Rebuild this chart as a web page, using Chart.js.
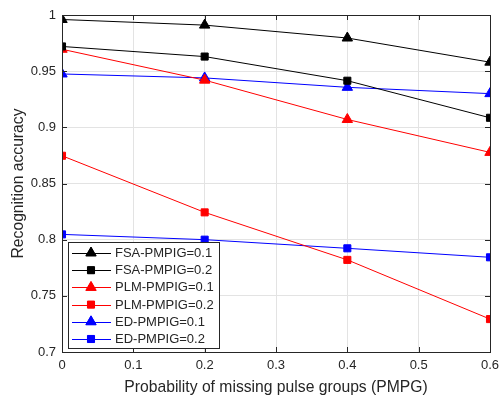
<!DOCTYPE html>
<html><head><meta charset="utf-8">
<script src="https://cdn.jsdelivr.net/npm/chart.js@4/dist/chart.umd.min.js"></script>
<style>html,body{margin:0;padding:0;background:#fff}#wrap{width:499px;height:397px}</style>
</head><body><div id="wrap"><canvas id="c" width="499" height="397"></canvas></div>
<script>
const xValues = [0, 0.2, 0.4, 0.6];
const fsa01 = [0.996, 0.991, 0.9795, 0.958];
const fsa02 = [0.972, 0.963, 0.9415, 0.9085];
const plm01 = [0.9695, 0.942, 0.907, 0.8777];
const plm02 = [0.8747, 0.8243, 0.782, 0.7293];
const ed01 = [0.9475, 0.944, 0.9356, 0.930];
const ed02 = [0.8047, 0.800, 0.7923, 0.7843];
const seriesLabels = ['FSA-PMPIG=0.1','FSA-PMPIG=0.2','PLM-PMPIG=0.1','PLM-PMPIG=0.2','ED-PMPIG=0.1','ED-PMPIG=0.2'];
const xTicks = [0, 0.1, 0.2, 0.3, 0.4, 0.5, 0.6];
const yTicks = [0.7, 0.75, 0.8, 0.85, 0.9, 0.95, 1];
const xTitle = 'Probability of missing pulse groups (PMPG)';
const yTitle = 'Recognition accuracy';

const FONT = '"Liberation Sans", Arial, Helvetica, sans-serif';
const AX = '#262626';

function ds(label, vals, color, style) {
  return {
    label, data: vals.map((v,i)=>({x:xValues[i], y:v})),
    borderColor: color, backgroundColor: color, borderWidth: 1,
    pointStyle: style, pointRadius: style==='triangle'?6:5, pointHoverRadius: style==='triangle'?6:5,
    pointBorderWidth: 1, pointBorderColor: color, pointBackgroundColor: color, tension: 0
  };
}
const datasets = [
  ds(seriesLabels[0], fsa01, '#000000', 'triangle'),
  ds(seriesLabels[1], fsa02, '#000000', 'rect'),
  ds(seriesLabels[2], plm01, '#ff0000', 'triangle'),
  ds(seriesLabels[3], plm02, '#ff0000', 'rect'),
  ds(seriesLabels[4], ed01, '#0000ff', 'triangle'),
  ds(seriesLabels[5], ed02, '#0000ff', 'rect'),
];

const framePlugin = {
  id: 'frame',
  afterDatasetsDraw(chart) {
    const {ctx, chartArea: a, scales} = chart;
    ctx.save();
    ctx.strokeStyle = AX; ctx.lineWidth = 1;
    ctx.strokeRect(Math.round(a.left)+0.5, Math.round(a.top)+0.5, Math.round(a.right-a.left), Math.round(a.bottom-a.top));
    const tl = 5;
    ctx.beginPath();
    xTicks.forEach(v => {
      const px = Math.round(scales.x.getPixelForValue(v))+0.5;
      ctx.moveTo(px, a.bottom); ctx.lineTo(px, a.bottom - tl);
      ctx.moveTo(px, a.top); ctx.lineTo(px, a.top + tl);
    });
    yTicks.forEach(v => {
      const py = Math.round(scales.y.getPixelForValue(v))+0.5;
      ctx.moveTo(a.left, py); ctx.lineTo(a.left + tl, py);
      ctx.moveTo(a.right, py); ctx.lineTo(a.right - tl, py);
    });
    ctx.stroke();
    ctx.restore();
  },
  afterDraw(chart) {
    const {ctx, chartArea: a} = chart;
    const x0 = a.left + 6, y0 = 242, w = 151, h = 106;
    ctx.save();
    ctx.fillStyle = '#fff';
    ctx.fillRect(x0, y0, w, h);
    ctx.strokeStyle = AX; ctx.lineWidth = 1;
    ctx.strokeRect(x0+0.5, y0+0.5, w, h);
    ctx.font = '13px ' + FONT;
    ctx.textBaseline = 'middle';
    chart.data.datasets.forEach((d, i) => {
      const cy = y0 + 11 + i * 17.2;
      ctx.strokeStyle = d.borderColor; ctx.lineWidth = 1;
      ctx.beginPath(); ctx.moveTo(x0+4, Math.round(cy)+0.5); ctx.lineTo(x0+43, Math.round(cy)+0.5); ctx.stroke();
      ctx.fillStyle = d.borderColor;
      Chart.helpers.drawPoint(ctx, {pointStyle: d.pointStyle, radius: d.pointRadius, rotation: 0, borderWidth: 1}, x0+23, cy);
      ctx.fill();
      ctx.fillStyle = AX;
      ctx.fillText(d.label, x0 + 47, cy + 0.5);
    });
    ctx.restore();
  }
};

new Chart(document.getElementById('c'), {
  type: 'line',
  data: { datasets },
  options: {
    responsive: false, animation: false, devicePixelRatio: 1,
    layout: { padding: { left: 0, top: 15, right: 9, bottom: 0 } },
    plugins: { legend: { display: false }, tooltip: { enabled: false } },
    scales: {
      x: {
        type: 'linear', min: 0, max: 0.6,
        afterBuildTicks: s => { s.ticks = xTicks.map(v => ({value: v})); },
        afterFit: s => { s.height = 45; s.paddingLeft = 0; s.paddingRight = 0; },
        grid: { color: '#e3e3e3', drawTicks: false, lineWidth: 1 },
        border: { display: false },
        ticks: { color: AX, font: { family: FONT, size: 13 }, padding: 6, maxRotation: 0,
          callback: v => String(v) },
        title: { display: true, text: xTitle, color: AX, font: { family: FONT, size: 15.7 }, padding: { top: 2, bottom: 0 } }
      },
      y: {
        type: 'linear', min: 0.7, max: 1,
        afterBuildTicks: s => { s.ticks = yTicks.map(v => ({value: v})); },
        afterFit: s => { s.width = 62; s.paddingTop = 0; s.paddingBottom = 0; },
        grid: { color: '#e3e3e3', drawTicks: false, lineWidth: 1 },
        border: { display: false },
        ticks: { color: AX, font: { family: FONT, size: 13 }, padding: 6,
          callback: v => String(v) },
        title: { display: true, text: yTitle, color: AX, font: { family: FONT, size: 15.7 }, padding: { top: 9, bottom: 0 } }
      }
    }
  },
  plugins: [framePlugin]
});
</script>
</body></html>
